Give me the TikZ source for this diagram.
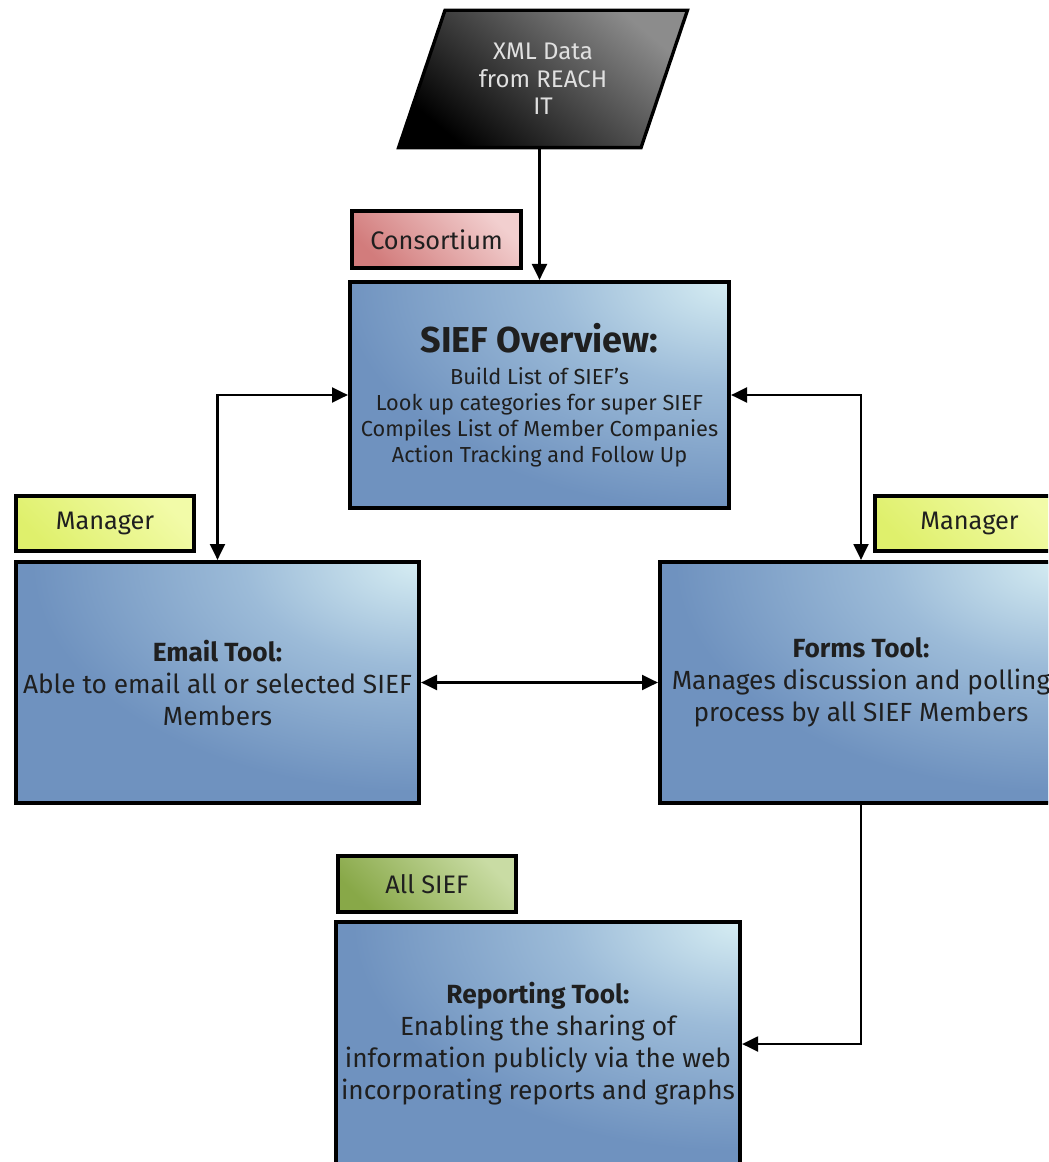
\documentclass[tikz,border=0pt]{standalone}
\usepackage{fontspec}
\setmainfont{Fira Sans}
\usetikzlibrary{arrows.meta,shapes.geometric}
\definecolor{bluedark}{HTML}{6F92BF}
\definecolor{bluemid}{HTML}{9CBBD8}
\definecolor{bluelight}{HTML}{D6EDF3}
\definecolor{reddark}{HTML}{D27C7C}
\definecolor{redlight}{HTML}{F2CFCF}
\definecolor{yeldark}{HTML}{DFF06C}
\definecolor{yellight}{HTML}{F2FBA8}
\definecolor{grndark}{HTML}{88A848}
\definecolor{grnlight}{HTML}{C9DCA4}
% glow spreading from the top right corner of a tool box
\pgfdeclareradialshading{boxglow}{\pgfpoint{0bp}{0bp}}{%
  color(0bp)=(bluelight); color(10bp)=(bluemid); color(22bp)=(bluedark); color(50bp)=(bluedark)}
\begin{document}
\begin{tikzpicture}[x=0.75pt,y=-0.75pt,
  frame at/.style n args={4}{at={({(#1+#3)/2},{(#2+#4)/2})},
    minimum width={(#3-#1)*0.75pt}, minimum height={(#4-#2)*0.75pt}},
  tool/.style={draw=black, line width=3pt, inner sep=0pt, fill=bluedark,
    path picture={\shade[shading=boxglow]
      (path picture bounding box.north east) ellipse [x radius=440, y radius=260];},
    align=center, text=black!88,
    font=\fontsize{19.7}{24}\selectfont},
  tag/.style={draw=black, line width=3pt, inner sep=0pt, text=black!88,
    font=\fontsize{19}{22}\selectfont},
  arr/.style={line width=2.2pt, -{Triangle[length=12pt,width=11pt]}},
  biarr/.style={line width=2.2pt, {Triangle[length=12pt,width=11pt]}-{Triangle[length=12pt,width=11pt]}}
]
\useasboundingbox (0,0) rectangle (1048,1162);
\clip (0,0) rectangle (1048,1162);

% data source
\node[trapezium, trapezium left angle=67, trapezium right angle=113,
  trapezium stretches=true, minimum width=217pt, minimum height=103pt,
  draw=black, line width=2.5pt, inner sep=0pt,
  top color=black!45, middle color=black, bottom color=black, shading angle=-40,
  align=center, text=white!88!black, font=\fontsize{18}{20.6}\selectfont]
  (xml) at (543,79) {XML Data\\from REACH\\IT};

% role tags
\node[tag, top color=redlight, bottom color=reddark, shading angle=-45,
  frame at={352}{211}{521}{268}] (cons) {Consortium};
\node[tag, top color=yellight, bottom color=yeldark, shading angle=-45,
  frame at={16}{496}{194}{551}] (mgrL) {Manager};
\node[tag, top color=yellight, bottom color=yeldark, shading angle=-45,
  frame at={875}{496}{1064}{551}] (mgrR) {Manager};
\node[tag, top color=grnlight, bottom color=grndark, shading angle=-45,
  frame at={338}{856}{516}{912}] (all) {All SIEF};

% tool boxes
\node[tool, frame at={350}{282}{729}{508}, font=\fontsize{16.3}{19.3}\selectfont] (sief)
  {{\fontsize{27}{30}\selectfont\bfseries SIEF Overview:}\\[5pt]
   Build List of SIEF’s\\
   Look up categories for super SIEF\\
   Compiles List of Member Companies\\
   Action Tracking and Follow Up};
\node[tool, frame at={16}{562}{419}{803}] (email)
  {\textbf{Email Tool:}\\Able to email all or selected SIEF\\Members};
\node[tool, frame at={660}{562}{1062}{803}] (forms)
  {\textbf{Forms Tool:}\\Manages discussion and polling\\process by all SIEF Members};
\node[tool, frame at={336}{922}{740}{1166}] (report)
  {\textbf{Reporting Tool:}\\Enabling the sharing of\\information publicly via the web\\incorporating reports and graphs};

% connectors
\draw[arr] (sief.north |- xml.south) -- (sief.north);
\draw[biarr] (sief.west) -| (email.north);
\draw[biarr] (sief.east) -| (forms.north);
\draw[biarr] (email.east) -- (forms.west);
\draw[arr] (forms.south) |- (report.east);
\end{tikzpicture}
\end{document}
